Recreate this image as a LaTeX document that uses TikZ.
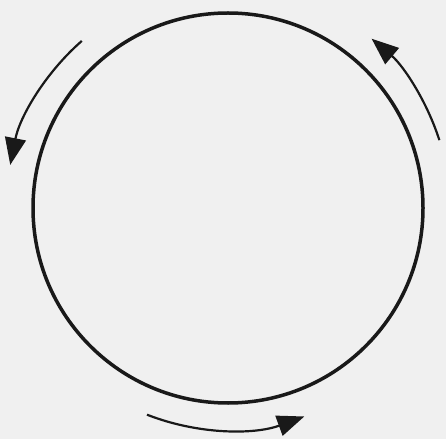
\documentclass[tikz,border=0pt]{standalone}
\usetikzlibrary{arrows.meta}
\definecolor{bg}{RGB}{240,240,240}
\definecolor{ink}{RGB}{25,25,25}
\begin{document}
\begin{tikzpicture}[x=1pt,y=1pt,
  ring/.style={draw=ink, circle, minimum size=390pt, inner sep=0pt, line width=3.5pt},
  flow/.style={draw=ink, line width=2.2pt, -{Triangle[length=27pt,width=21pt]}}]
\fill[bg] (0,0) rectangle (446,439);
\useasboundingbox (0,0) rectangle (446,439);
\node[ring] (c) at (228,231) {};
\draw[flow] ([shift={(131.2:222)}]c.center) arc[start angle=131.2, end angle=168.8, radius=222];
\draw[flow] ([shift={(17.8:222)}]c.center) arc[start angle=17.8, end angle=49.7, radius=222];
\draw[flow] ([shift={(248.6:222)}]c.center) arc[start angle=248.6, end angle=290.1, radius=222];
\end{tikzpicture}
\end{document}
